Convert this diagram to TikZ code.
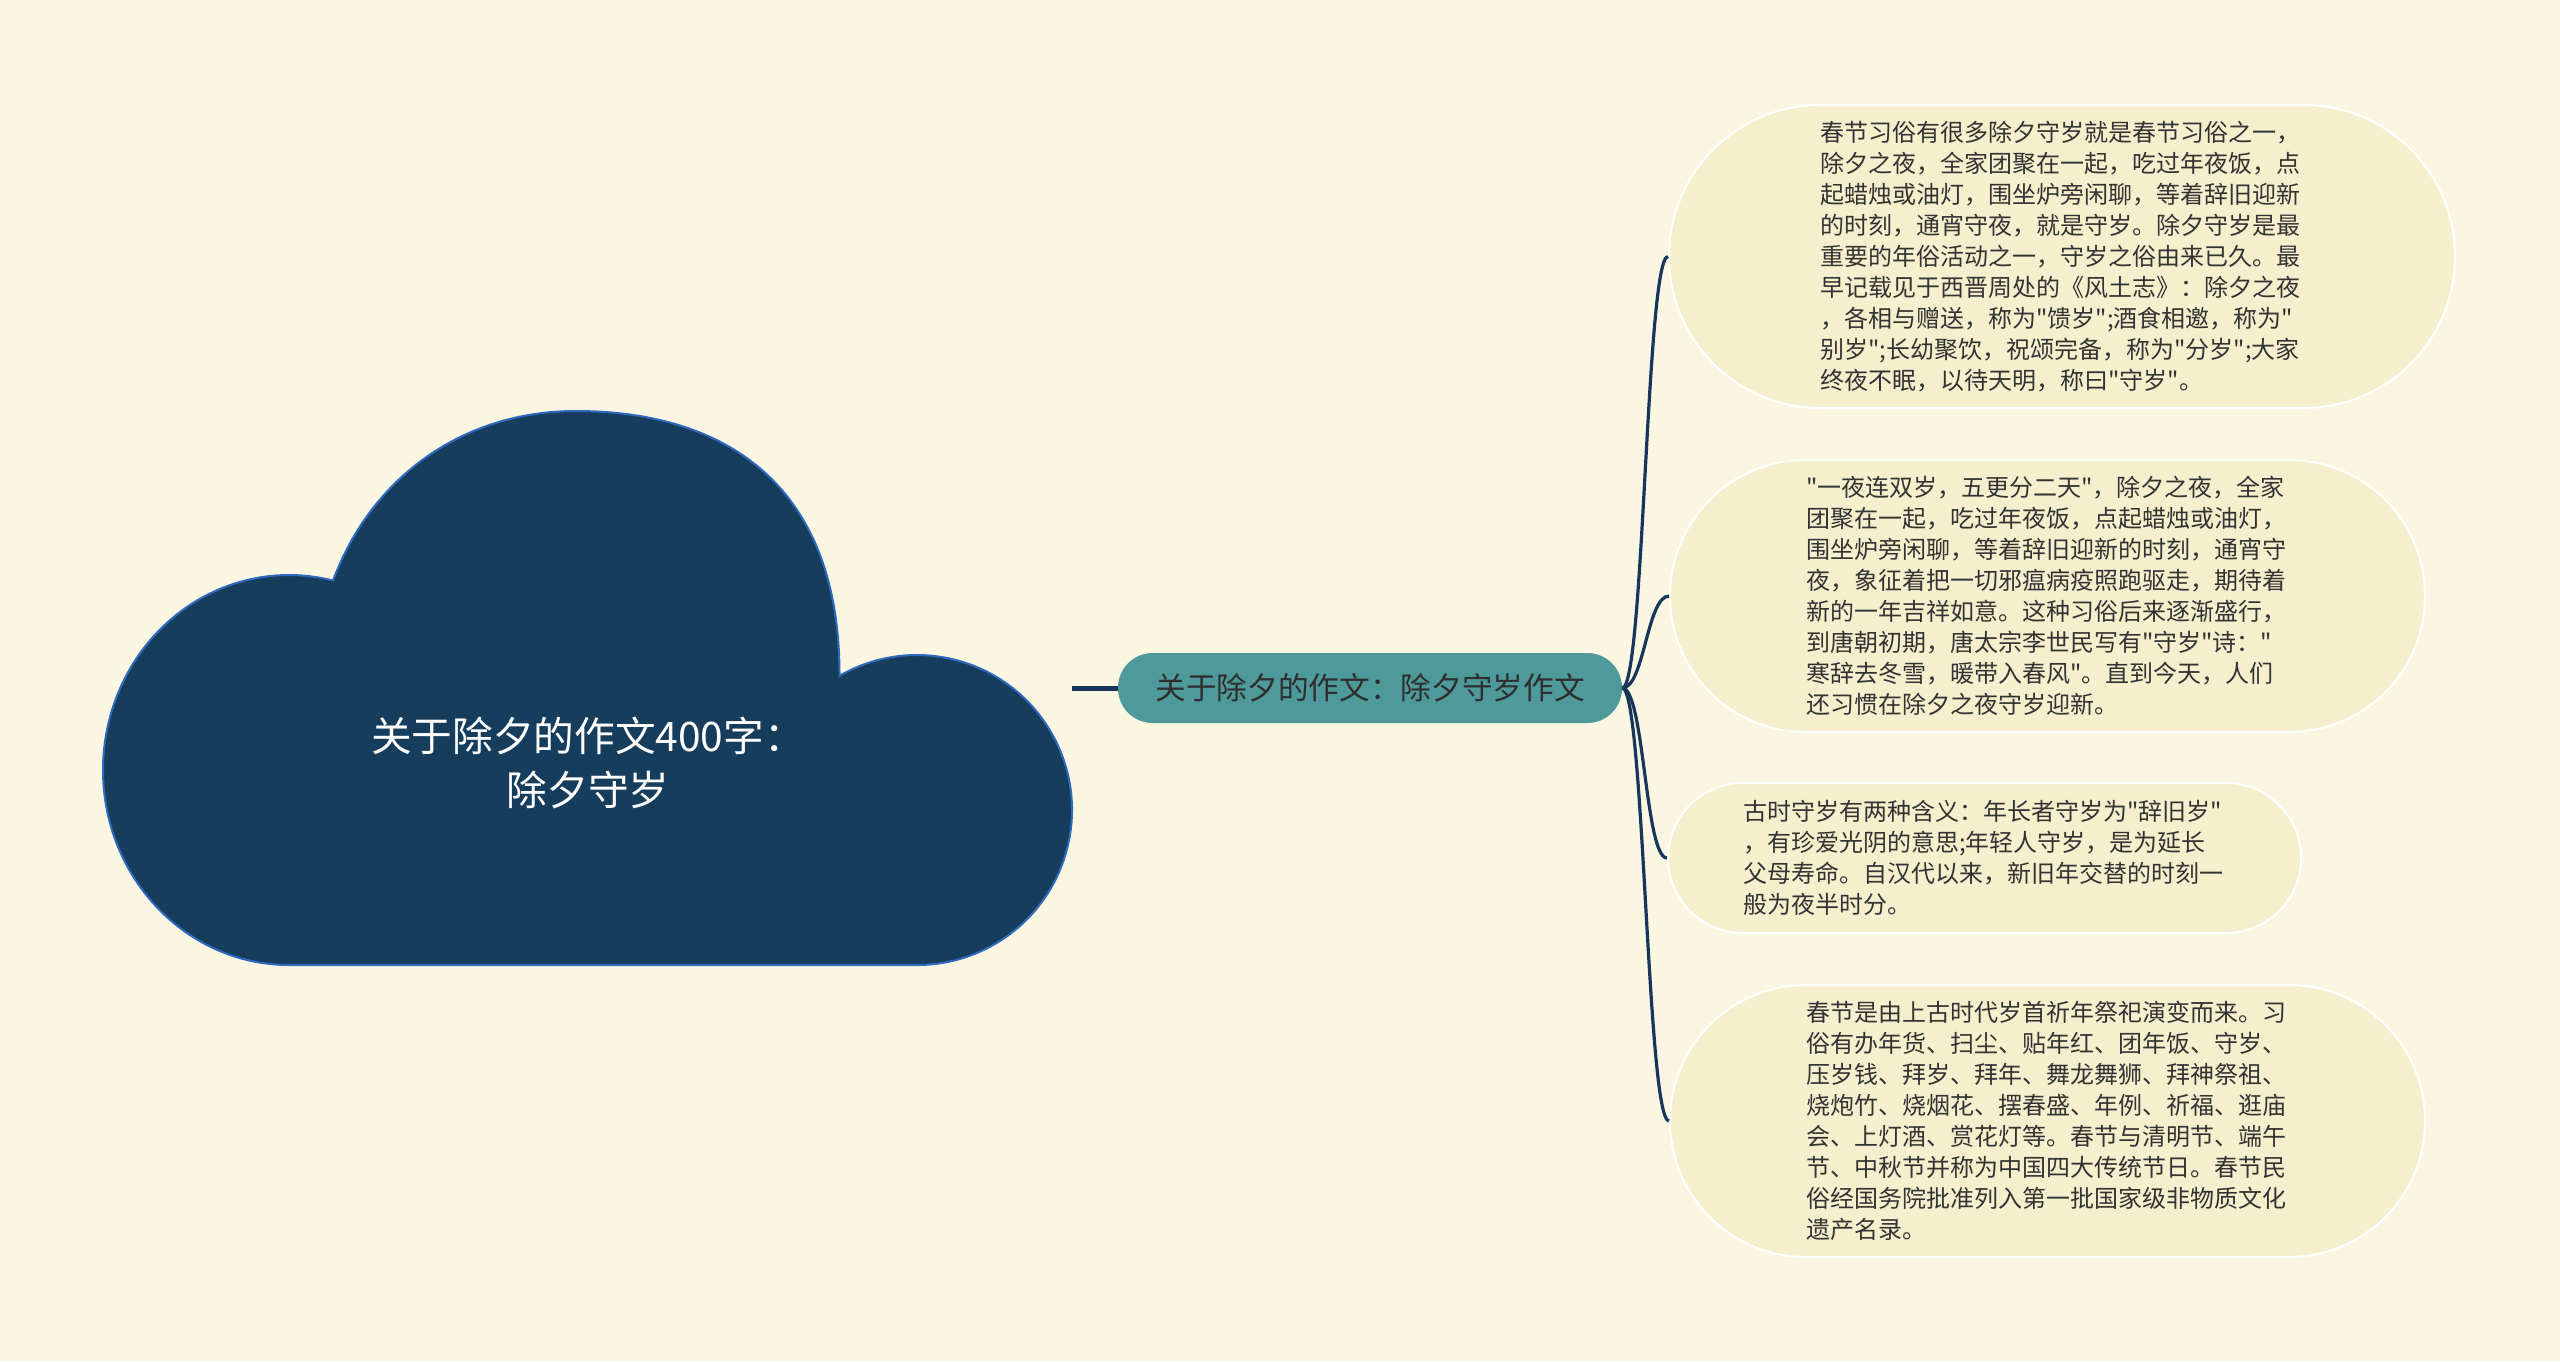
\documentclass[tikz,border=0pt]{standalone}
\usepackage{fontspec}
\setmainfont{Noto Sans CJK SC}[Ligatures=TeXOff]

\definecolor{paper}{HTML}{FAF6E2}
\definecolor{cloudblue}{HTML}{173D5C}
\definecolor{cloudedge}{HTML}{2E6BBF}
\definecolor{hubteal}{HTML}{4E9A9B}
\definecolor{linkblue}{HTML}{17375A}
\definecolor{leafyellow}{HTML}{F5EFCD}
\definecolor{leaftext}{HTML}{333333}

\begin{document}
\begin{tikzpicture}[x=0.75pt,y=-0.75pt,
  link/.style={draw=linkblue,line width=2.4pt},
  leaf/.style={draw=white,line width=1.5pt,fill=leafyellow,text=leaftext,
    align=left,inner ysep=0pt,text width=362.25pt,
    font=\fontsize{18pt}{23.25pt}\selectfont}]
  \useasboundingbox[fill=paper] (0,0) rectangle (2560,1361);

  % cloud
  \draw[fill=cloudblue,draw=cloudedge,line width=1.5pt]
    (289,965) arc[start angle=90,end angle=283.7,x radius=186,y radius=195]
    .. controls (370,480) and (460,411) .. (576,411)
    .. controls (720,411) and (840,480) .. (839.5,675.8)
    arc[start angle=240,end angle=450,radius=155] -- cycle;
  \node (root) [minimum width=726.75pt,minimum height=415.5pt,inner sep=0pt] at (587.5,688) {};
  \node (title) [text=white,align=center,font=\fontsize{30.5pt}{40.5pt}\selectfont] at (588,763)
    {关于除夕的作文400字：\\除夕守岁};

  \node (hub) [fill=hubteal,rounded corners=26pt,minimum width=378pt,minimum height=52.5pt,
    inner sep=0pt,text=black!82,font=\fontsize{23pt}{28pt}\selectfont] at (1370,688)
    {关于除夕的作文：除夕守岁作文};
  \draw[linkblue,line width=3.75pt] (root.east) -- (hub.west);

  \node (leafA) [leaf,inner xsep=113.6pt,minimum height=227.25pt,rounded corners=113.5pt] at (2062,256.5)
    {春节习俗有很多除夕守岁就是春节习俗之一，\\
     除夕之夜，全家团聚在一起，吃过年夜饭，点\\
     起蜡烛或油灯，围坐炉旁闲聊，等着辞旧迎新\\
     的时刻，通宵守夜，就是守岁。除夕守岁是最\\
     重要的年俗活动之一，守岁之俗由来已久。最\\
     早记载见于西晋周处的《风土志》：除夕之夜\\
     ，各相与赠送，称为"馈岁";酒食相邀，称为"\\
     别岁";长幼聚饮，祝颂完备，称为"分岁";大家\\
     终夜不眠，以待天明，称曰"守岁"。};
  \node (leafB) [leaf,inner xsep=102pt,minimum height=204pt,rounded corners=101.9pt] at (2047.5,596)
    {"一夜连双岁，五更分二天"，除夕之夜，全家\\
     团聚在一起，吃过年夜饭，点起蜡烛或油灯，\\
     围坐炉旁闲聊，等着辞旧迎新的时刻，通宵守\\
     夜，象征着把一切邪瘟病疫照跑驱走，期待着\\
     新的一年吉祥如意。这种习俗后来逐渐盛行，\\
     到唐朝初期，唐太宗李世民写有"守岁"诗："\\
     寒辞去冬雪，暖带入春风"。直到今天，人们\\
     还习惯在除夕之夜守岁迎新。};
  \node (leafC) [leaf,inner xsep=56.25pt,minimum height=112.5pt,rounded corners=56.2pt] at (1984.5,858)
    {古时守岁有两种含义：年长者守岁为"辞旧岁"\\
     ，有珍爱光阴的意思;年轻人守岁，是为延长\\
     父母寿命。自汉代以来，新旧年交替的时刻一\\
     般为夜半时分。};
  \node (leafD) [leaf,inner xsep=102pt,minimum height=204pt,rounded corners=101.9pt] at (2047.5,1121)
    {春节是由上古时代岁首祈年祭祀演变而来。习\\
     俗有办年货、扫尘、贴年红、团年饭、守岁、\\
     压岁钱、拜岁、拜年、舞龙舞狮、拜神祭祖、\\
     烧炮竹、烧烟花、摆春盛、年例、祈福、逛庙\\
     会、上灯酒、赏花灯等。春节与清明节、端午\\
     节、中秋节并称为中国四大传统节日。春节民\\
     俗经国务院批准列入第一批国家级非物质文化\\
     遗产名录。};

  \foreach \leaf in {leafA,leafB,leafC,leafD}
    \draw[link] (hub.east) .. controls +(22,0) and +(-22,0) .. (\leaf.west);
\end{tikzpicture}
\end{document}
